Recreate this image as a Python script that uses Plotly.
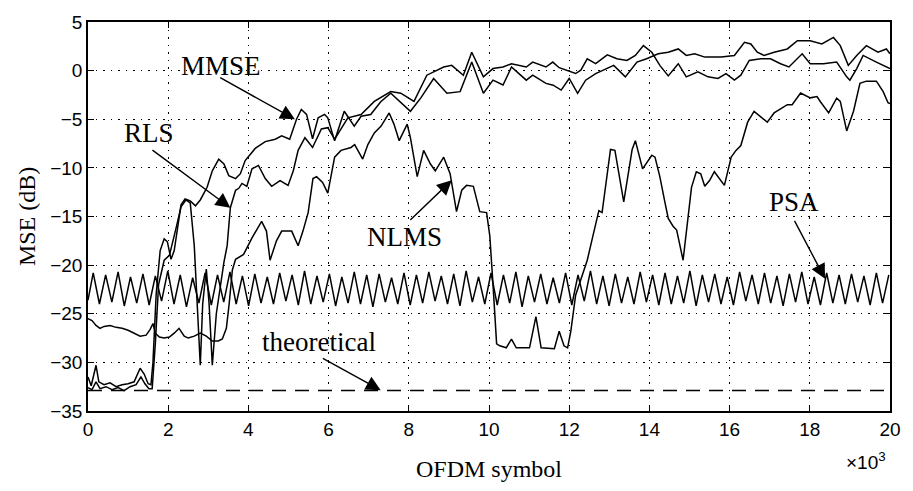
import plotly.graph_objects as go

# x in units of 10^3 OFDM symbols, y in dB
mmse_x = [0, 0.08, 0.2, 0.27, 0.4, 0.55, 0.7, 0.85, 1.0, 1.15, 1.3, 1.4, 1.5, 1.57, 1.62, 1.7, 1.8, 1.9, 1.98, 2.07,
          2.15, 2.32, 2.42, 2.55, 2.68, 2.8, 2.97, 3.1, 3.26, 3.39, 3.51, 3.68, 3.8, 3.92, 4.17, 4.42, 4.67, 4.83, 5.03, 5.2,
          5.32, 5.45, 5.6, 5.74, 5.9, 5.98, 6.15, 6.39, 6.64, 6.81, 7.05, 7.3, 7.55, 8.04, 8.3, 8.62, 8.95, 9.28, 9.57, 9.86,
          10.1, 10.35, 10.56, 10.93, 11.09, 11.42, 11.6, 11.8, 12.0, 12.21, 12.41, 12.66, 13.11, 13.4, 13.69, 13.93, 14.22, 14.47, 14.72, 14.92,
          15.13, 15.38, 15.79, 16.12, 16.37, 16.53, 16.69, 16.86, 17.11, 17.44, 17.69, 18.01, 18.3, 18.59, 18.76, 18.96, 19.17, 19.41, 19.7, 19.91, 20.0]
mmse_y = [-31.5, -32.4, -30.3, -32.0, -32.3, -32.1, -32.5, -32.3, -32.2, -32.0, -30.6, -31.2, -32.2, -32.3, -30.0, -23.0, -18.5, -17.3, -17.6, -19.4,
          -18.5, -13.8, -13.2, -13.4, -13.9, -13.3, -12.0, -10.3, -9.1, -9.6, -10.8, -11.1, -10.6, -9.25, -8.0, -7.3, -7.05, -6.7, -7.05, -5.0,
          -4.0, -4.5, -7.0, -4.85, -4.5, -4.85, -7.22, -4.18, -5.7, -4.69, -4.52, -3.2, -2.32, -4.18, -2.8, -0.81, -2.32, -2.16, 0.88, -2.32,
          -0.98, -1.48, 0.37, -0.98, -0.47, -1.31, -1.5, -2.0, -0.81, -2.33, -0.98, -0.3, 0.54, -0.64, 0.88, 1.22, 1.73, 1.89, 2.23, 1.56,
          1.73, 1.39, 1.39, 1.56, 2.91, 2.74, 1.89, 1.56, 1.89, 2.23, 3.08, 3.08, 2.74, 3.41, 2.57, 0.54, 1.56, 2.57, 1.89, 2.23, 1.73]

rls_x = [0, 0.1, 0.2, 0.3, 0.45, 0.6, 0.75, 0.9, 1.05, 1.2, 1.32, 1.42, 1.52, 1.6, 1.68, 1.76, 1.9, 2.03, 2.19, 2.32,
         2.44, 2.55, 2.65, 2.72, 2.8, 2.86, 2.95, 3.02, 3.1, 3.2, 3.3, 3.39, 3.47, 3.55, 3.68, 3.76, 3.84, 3.96, 4.09, 4.25,
         4.42, 4.58, 4.79, 4.99, 5.12, 5.24, 5.41, 5.6, 5.82, 5.98, 6.15, 6.3, 6.48, 6.81, 7.14, 7.55, 7.8, 8.13, 8.45, 8.87,
         9.07, 9.36, 9.57, 9.86, 10.1, 10.35, 10.56, 10.93, 11.09, 11.42, 11.59, 11.75, 11.92, 12.16, 12.29, 12.45, 12.66, 12.95, 13.19, 13.44,
         13.65, 13.85, 14.06, 14.26, 14.47, 14.72, 14.92, 15.21, 15.46, 15.71, 15.91, 16.12, 16.28, 16.49, 16.78, 17.02, 17.27, 17.48, 17.81, 18.01,
         18.34, 18.67, 18.92, 19.0, 19.17, 19.33, 19.66, 19.91, 20.0]
rls_y = [-32.6, -32.8, -32.0, -32.7, -32.5, -32.8, -32.6, -32.9, -32.5, -32.3, -31.5, -32.2, -32.7, -32.7, -28.0, -22.0, -19.5, -19.0, -16.3, -14.0,
         -13.3, -13.6, -18.0, -24.0, -30.3, -24.0, -20.4, -24.0, -30.3, -25.0, -22.0, -19.7, -18.0, -14.1, -12.3, -12.1, -11.6, -11.9, -10.1, -9.75,
         -11.1, -11.9, -11.3, -11.8, -10.3, -8.2, -6.9, -7.9, -6.0, -5.87, -7.05, -6.0, -4.85, -4.52, -3.17, -2.16, -2.32, -3.17, -0.47, 0.37,
         0.54, -0.47, 1.89, -0.64, 0.21, 0.37, 0.71, 0.37, 0.88, 0.37, 0.88, 0.3, 0.04, -0.3, 0.04, 1.22, 0.71, 1.62, 1.22, 1.05,
         1.56, 2.57, 1.89, 0.54, -0.54, 0.71, -0.64, -0.13, -0.64, -0.81, -0.3, -0.98, -0.47, 1.05, 1.22, 1.22, 0.71, 0.38, 1.73, 0.71,
         0.71, 0.88, -0.64, -0.98, 0.21, 1.56, 0.88, 0.38, 0.21]

nlms_x = [0, 0.1, 0.2, 0.3, 0.4, 0.55, 0.7, 0.85, 1.0, 1.15, 1.3, 1.45, 1.55, 1.62, 1.68, 1.78, 1.9, 2.03, 2.15, 2.27,
          2.4, 2.5, 2.65, 2.8, 2.95, 3.1, 3.25, 3.35, 3.45, 3.52, 3.6, 3.68, 3.88, 4.09, 4.33, 4.45, 4.54, 4.7, 4.83, 5.08,
          5.24, 5.36, 5.49, 5.61, 5.7, 5.85, 5.98, 6.15, 6.31, 6.56, 6.65, 6.85, 6.98, 7.14, 7.31, 7.51, 7.63, 7.76, 7.96, 8.04,
          8.21, 8.37, 8.54, 8.66, 8.87, 9.03, 9.15, 9.19, 9.32, 9.44, 9.61, 9.77, 9.94, 10.02, 10.1, 10.19, 10.27, 10.43, 10.56, 10.68,
          11.01, 11.17, 11.3, 11.63, 11.75, 11.87, 11.96, 12.04, 12.16, 12.33, 12.45, 12.58, 12.74, 12.82, 13.03, 13.14, 13.36, 13.57, 13.65, 13.83,
          14.06, 14.14, 14.26, 14.39, 14.47, 14.59, 14.68, 14.84, 15.05, 15.17, 15.28, 15.38, 15.5, 15.62, 15.87, 16.04, 16.16, 16.28, 16.45, 16.61,
          16.94, 17.11, 17.44, 17.56, 17.77, 18.01, 18.18, 18.26, 18.47, 18.67, 18.76, 18.92, 19.09, 19.25, 19.41, 19.66, 19.83, 19.95, 20.0]
nlms_y = [-25.5, -25.7, -26.2, -26.5, -26.3, -26.2, -26.4, -26.5, -26.7, -27.0, -27.3, -27.2, -26.6, -26.0, -27.0, -27.4, -27.5, -27.4, -27.0, -26.5,
          -27.3, -27.5, -27.3, -27.0, -27.3, -27.8, -27.8, -27.6, -26.5, -24.0, -20.5, -19.4, -18.9, -17.2, -15.5, -16.5, -19.5, -17.5, -16.5, -16.5,
          -18.0, -16.5, -14.6, -11.1, -10.9, -11.5, -12.6, -8.9, -8.2, -7.9, -7.6, -9.1, -7.6, -6.4, -5.7, -4.35, -5.5, -7.2, -5.5, -6.9,
          -10.9, -8.2, -9.6, -10.3, -8.9, -10.6, -13.3, -14.5, -12.3, -11.8, -11.9, -14.5, -14.6, -17.0, -22.0, -28.1, -28.3, -28.5, -27.6, -28.5,
          -28.5, -25.3, -28.5, -28.6, -26.8, -28.3, -28.5, -26.8, -23.1, -21.0, -19.5, -17.2, -14.4, -14.6, -8.1, -8.2, -13.5, -8.1, -7.2, -10.1,
          -8.7, -8.9, -10.9, -13.6, -15.2, -16.0, -16.4, -19.5, -12.0, -10.4, -10.6, -11.9, -11.3, -10.4, -11.8, -8.9, -8.2, -7.7, -5.3, -4.2,
          -5.3, -4.35, -3.5, -3.5, -2.3, -2.8, -2.66, -3.17, -4.35, -2.83, -3.17, -6.2, -4.18, -1.3, -1.08, -1.08, -2.16, -3.3, -3.4]

# PSA: alternating read-off peak / trough levels of the periodic ripple
psa_peaks = [-20.8, -21.0, -20.7, -21.2, -20.9, -21.1, -20.6, -21.0, -21.3, -20.8,
             -21.0, -20.7, -21.1, -20.9, -21.2, -20.8, -21.0, -20.6, -21.1, -20.9,
             -21.2, -20.7, -21.0, -20.9, -21.3, -20.8, -21.0, -20.7, -21.1, -20.9,
             -20.6, -21.2, -20.8, -21.0, -20.7, -21.1, -20.9, -21.3, -20.8, -21.0,
             -20.6, -21.1, -20.9, -21.2, -20.7, -21.0, -20.8, -21.1, -20.6, -21.0,
             -20.9, -21.2, -20.7, -21.0, -20.8, -21.1, -20.9, -20.7, -21.2, -20.8,
             -21.0, -20.9, -21.1, -20.8, -21.0]
psa_troughs = [-24.0, -23.8, -24.2, -23.9, -24.1, -23.7, -24.0, -24.3, -23.9, -24.1,
               -23.8, -24.0, -24.2, -23.9, -24.0, -23.7, -24.1, -24.0, -23.8, -24.2,
               -23.9, -24.0, -24.3, -23.8, -24.0, -24.1, -23.9, -23.7, -24.0, -24.2,
               -23.8, -24.0, -24.1, -23.9, -24.3, -23.8, -24.0, -23.9, -24.1, -23.7,
               -24.0, -24.2, -23.9, -24.0, -23.8, -24.1, -24.0, -23.9, -24.2, -23.8,
               -24.0, -24.1, -23.7, -24.0, -23.9, -24.2, -23.8, -24.0, -24.1, -23.9,
               -24.0, -23.8, -24.1, -23.9]
psa_start = -23.6
psa_first = 0.13     # position of first ripple peak (x10^3 symbols)
psa_half = 0.155     # half ripple period (x10^3 symbols)

theory_x = [0, 20]
theory_y = [-32.9, -32.9]

x_ticks = [0, 2, 4, 6, 8, 10, 12, 14, 16, 18, 20]
y_ticks = [-35, -30, -25, -20, -15, -10, -5, 0, 5]

# build PSA series from the read values
psa_x = [0.0]
psa_y = [psa_start]
for i in range(len(psa_peaks)):
    psa_x.append(psa_first + 2 * i * psa_half)
    psa_y.append(psa_peaks[i])
    if i < len(psa_troughs):
        psa_x.append(psa_first + (2 * i + 1) * psa_half)
        psa_y.append(psa_troughs[i])

LW = 1.5
fig = go.Figure()
for xs, ys, nm in [(mmse_x, mmse_y, "MMSE"), (rls_x, rls_y, "RLS"), (nlms_x, nlms_y, "NLMS"), (psa_x, psa_y, "PSA")]:
    fig.add_trace(go.Scatter(x=xs, y=ys, mode="lines", name=nm, line=dict(color="black", width=LW)))
fig.add_trace(go.Scatter(x=theory_x, y=theory_y, mode="lines", name="theoretical",
                         line=dict(color="black", width=LW, dash="14px,9px")))

serif = "Liberation Serif"
sans = "Liberation Sans"
ann_font = dict(family=serif, size=27, color="black")

labels = [("MMSE", 3.31, 0.5), ("RLS", 1.53, -6.45), ("NLMS", 7.9, -17.1), ("PSA", 17.6, -13.5), ("theoretical", 5.76, -27.9)]
arrows = [(5.16, -5.0, 3.26, -0.64), (3.55, -14.1, 1.57, -8.06), (9.07, -11.27, 8.0, -15.5),
          (18.38, -21.4, 17.6, -15.3), (7.3, -32.87, 5.82, -29.5)]

annotations = []
for t, x, y in labels:
    annotations.append(dict(text=t, x=x, y=y, xref="x", yref="y", showarrow=False, font=ann_font,
                            xanchor="center", yanchor="middle"))
for x, y, ax, ay in arrows:
    annotations.append(dict(text="", x=x, y=y, ax=ax, ay=ay, xref="x", yref="y", axref="x", ayref="y",
                            showarrow=True, arrowhead=2, arrowsize=2.1, arrowwidth=1.4, arrowcolor="black", standoff=0))
annotations.append(dict(text="OFDM symbol", x=0.5006, y=-0.149, xref="paper", yref="paper", showarrow=False,
                        font=dict(family=serif, size=24, color="black"), xanchor="center", yanchor="middle"))
annotations.append(dict(text="MSE (dB)", x=-0.0766, y=0.5, xref="paper", yref="paper", showarrow=False, textangle=-90,
                        font=dict(family=serif, size=24, color="black"), xanchor="center", yanchor="middle"))
annotations.append(dict(text="×10<sup>3</sup>", x=0.97, y=-0.129, xref="paper", yref="paper", showarrow=False,
                        font=dict(family=sans, size=19, color="black"), xanchor="center", yanchor="middle"))

axis_common = dict(showline=True, linecolor="black", linewidth=1.5, mirror="ticks", ticks="inside", ticklen=6,
                   tickcolor="black", tickwidth=1, showgrid=True, gridcolor="black", gridwidth=1, griddash="1.5px,6px",
                   zeroline=False, tickfont=dict(family=sans, size=19, color="black"))
fig.update_layout(
    width=913, height=491, margin=dict(l=88, r=16, t=16, b=80),
    paper_bgcolor="white", plot_bgcolor="white", showlegend=False,
    xaxis=dict(range=[0, 20], tickvals=x_ticks, ticktext=[str(v) for v in x_ticks], **axis_common),
    yaxis=dict(range=[-35, 5], tickvals=y_ticks, **axis_common),
    annotations=annotations,
)
fig.write_html("out.html")
